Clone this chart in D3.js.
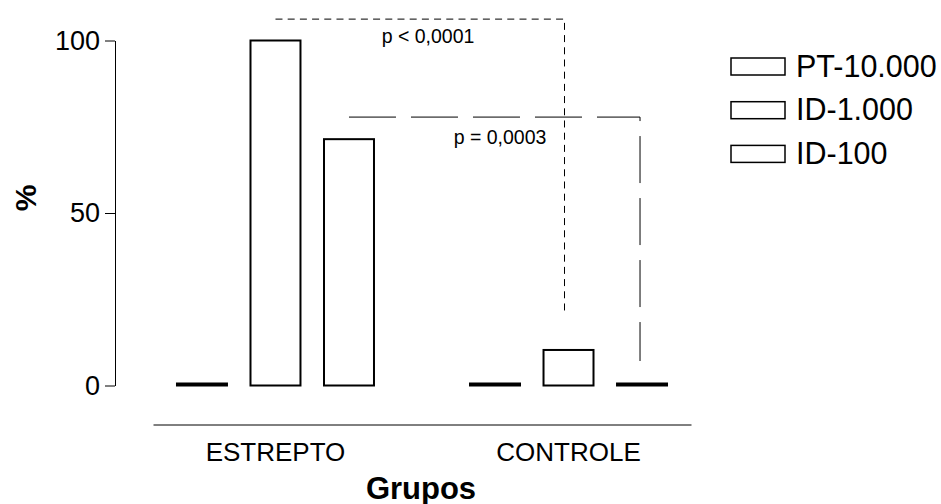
<!DOCTYPE html>
<html>
<head>
<meta charset="utf-8">
<script src="https://cdn.jsdelivr.net/npm/d3@7"></script>
<style>
  html, body { margin: 0; padding: 0; background: #fff; }
  svg { display: block; font-family: Arial, 'Liberation Sans', sans-serif; }
</style>
</head>
<body>
<div id="chart"></div>
<script>
// data
const groups = ['ESTREPTO', 'CONTROLE'];
const series = ['PT-10.000', 'ID-1.000', 'ID-100'];
const estreptoValues = [0, 100, 71.4];
const controleValues = [0, 10.3, 0];
const yTicks = [0, 50, 100];

// significance brackets: series compared between the two groups
const bracketSeries = ['ID-1.000', 'ID-100'];
const bracketTop = [106.2, 77.8];
const bracketEnd = [20.4, 7.1];
const bracketLabels = ['p < 0,0001', 'p = 0,0003'];

const width = 941;
const height = 504;
const black = '#000';

const svg = d3.select('#chart').append('svg')
  .attr('width', width)
  .attr('height', height);

const y = d3.scaleLinear()
  .domain([0, 100])
  .range([385.5, 40.5]);

const x0 = d3.scaleBand()
  .domain(groups)
  .range([153, 691])
  .paddingInner(0.4)
  .paddingOuter(0.118);

const x1 = d3.scaleBand()
  .domain(series)
  .range([-98.5, 98.5])
  .paddingInner(0.32);

const groupCenter = g => x0(g) + x0.bandwidth() / 2;
const barCenter = (g, s) => groupCenter(g) + x1(s) + x1.bandwidth() / 2;

// y axis
const yAxis = svg.append('g')
  .attr('transform', 'translate(115,0)')
  .call(d3.axisLeft(y).tickValues(yTicks).tickSize(10).tickSizeOuter(0).tickPadding(5));
yAxis.select('.domain').attr('stroke', black).attr('stroke-width', 1);
yAxis.selectAll('.tick line').attr('stroke', black).attr('stroke-width', 1);
yAxis.selectAll('.tick text')
  .attr('font-size', '27px')
  .attr('font-family', 'Arial, Liberation Sans, sans-serif')
  .attr('fill', black);

// x axis (line + group names, no ticks)
const xAxis = svg.append('g')
  .attr('transform', 'translate(0,424.5)')
  .call(d3.axisBottom(x0).tickSize(0).tickSizeOuter(0).tickPadding(18));
xAxis.select('.domain').attr('stroke', black).attr('stroke-width', 1);
xAxis.selectAll('.tick text')
  .attr('font-size', '26px')
  .attr('font-family', 'Arial, Liberation Sans, sans-serif')
  .attr('fill', black);

// bars
const rows = groups.map((g, i) => ({
  group: g,
  values: (i === 0 ? estreptoValues : controleValues).map((v, j) => ({ series: series[j], value: v }))
}));

const groupSel = svg.append('g').selectAll('g')
  .data(rows)
  .join('g')
  .attr('transform', d => `translate(${groupCenter(d.group)},0)`);

groupSel.selectAll('rect')
  .data(d => d.values)
  .join('rect')
  .attr('x', d => x1(d.series))
  .attr('width', x1.bandwidth())
  .attr('y', d => y(0) - Math.max(y(0) - y(d.value), 2))
  .attr('height', d => Math.max(y(0) - y(d.value), 2))
  .attr('fill', '#fff')
  .attr('stroke', black)
  .attr('stroke-width', 2);

// significance brackets
const dashes = ['7,5.2', '47,15'];
const labelPos = [[428, 43], [500, 144]];
const xShift = [-4, -2];

bracketSeries.forEach((s, i) => {
  const xa = barCenter(groups[0], s);
  const xb = barCenter(groups[1], s) + xShift[i];
  const path = d3.path();
  path.moveTo(xa, y(bracketTop[i]));
  path.lineTo(xb, y(bracketTop[i]));
  path.lineTo(xb, y(bracketEnd[i]));

  svg.append('path')
    .attr('d', path.toString())
    .attr('fill', 'none')
    .attr('stroke', black)
    .attr('stroke-width', 1)
    .attr('stroke-dasharray', dashes[i]);

  svg.append('text')
    .attr('x', labelPos[i][0])
    .attr('y', labelPos[i][1])
    .attr('text-anchor', 'middle')
    .attr('font-size', '19.5px')
    .attr('fill', black)
    .text(bracketLabels[i]);
});

// axis titles
svg.append('text')
  .attr('transform', 'translate(36,198) rotate(-90)')
  .attr('text-anchor', 'middle')
  .attr('font-size', '30px')
  .attr('font-weight', 'bold')
  .attr('fill', black)
  .text('%');

svg.append('text')
  .attr('x', 421)
  .attr('y', 499)
  .attr('text-anchor', 'middle')
  .attr('font-size', '31px')
  .attr('font-weight', 'bold')
  .attr('fill', black)
  .text('Grupos');

// legend
const legend = svg.append('g')
  .attr('transform', 'translate(731,58)')
  .selectAll('g')
  .data(series)
  .join('g')
  .attr('transform', (d, i) => `translate(0,${i * 43.7})`);

legend.append('rect')
  .attr('width', 54)
  .attr('height', 17)
  .attr('fill', '#fff')
  .attr('stroke', black)
  .attr('stroke-width', 1.5);

legend.append('text')
  .attr('x', 65)
  .attr('y', 18.5)
  .attr('font-size', '30.5px')
  .attr('fill', black)
  .text(d => d);
</script>
</body>
</html>
